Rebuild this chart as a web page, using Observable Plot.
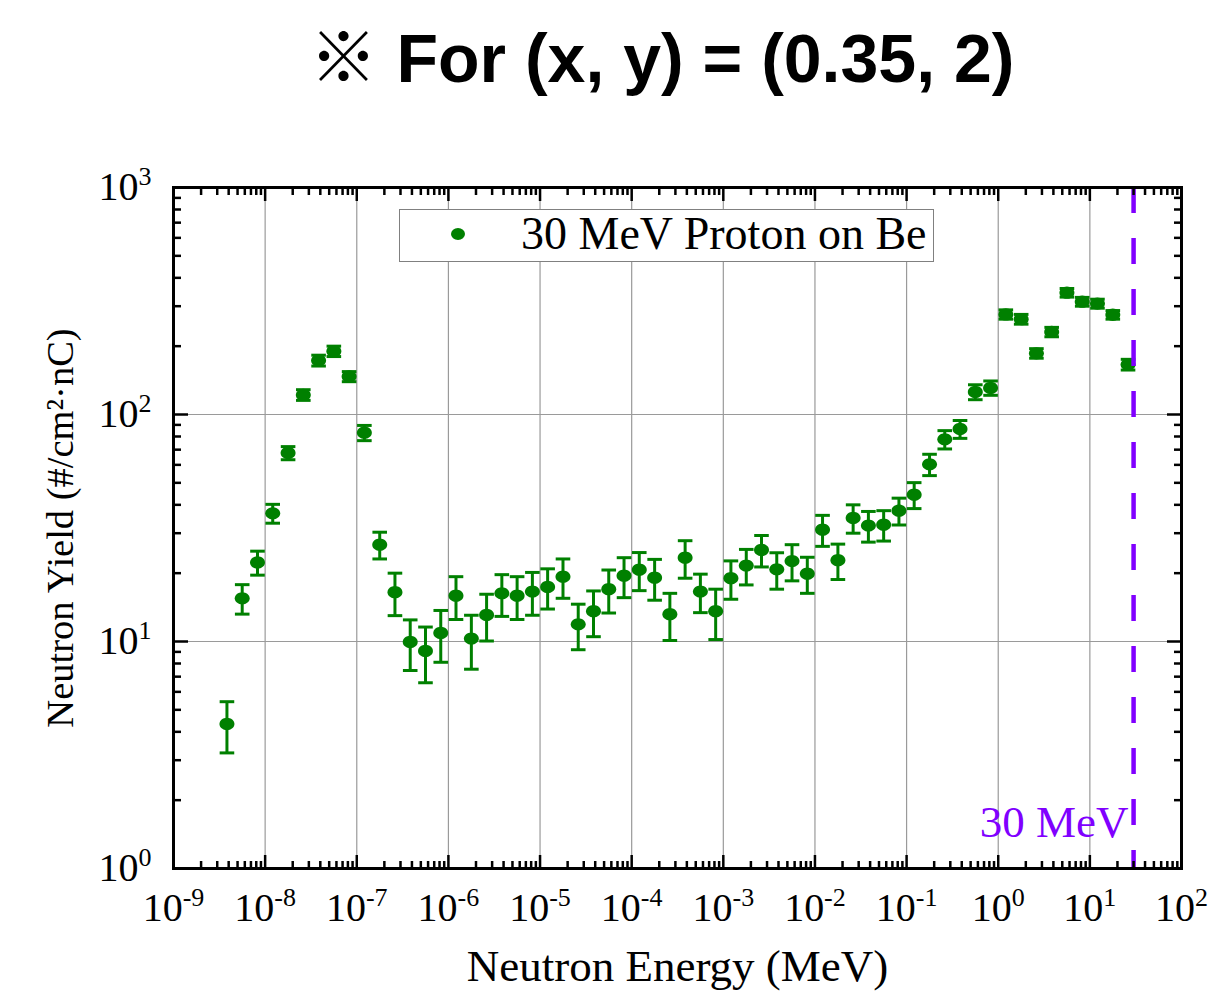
<!DOCTYPE html>
<html>
<head>
<meta charset="utf-8">
<script src="https://cdn.jsdelivr.net/npm/d3@7"></script>
<script src="https://cdn.jsdelivr.net/npm/@observablehq/plot@0.6"></script>
<style>
html,body{margin:0;padding:0;background:#fff;}
#wrap{position:relative;width:1221px;height:991px;overflow:hidden;background:#fff;}
#title{position:absolute;top:24px;left:662px;transform:translateX(-50%);white-space:nowrap;
  font-family:"Liberation Sans",Arial,"Noto Sans CJK JP",sans-serif;font-weight:bold;font-size:68px;line-height:68px;color:#000;}
#legend{position:absolute;left:399px;top:209px;width:535px;height:53px;box-sizing:border-box;border:1.5px solid #808080;background:#fff;}
#legend .dot{position:absolute;left:51px;top:18px;width:14px;height:12px;border-radius:50%;background:#008000;}
#legend .lab{position:absolute;left:121px;top:1px;white-space:nowrap;font-family:"Liberation Serif","Times New Roman",serif;font-size:46px;line-height:46px;color:#000;}
</style>
</head>
<body>
<div id="wrap">
  <div id="chart"></div>
  <div id="title"></div>
  <div id="legend"><span class="dot"></span><span class="lab"></span></div>
</div>
<script>
// ---- data ----
const titleText = "※ For (x, y) = (0.35, 2)";
const seriesName = "30 MeV Proton on Be";
const xTitle = "Neutron Energy (MeV)";
const yTitle = "Neutron Yield (#/cm²·nC)";

const energy = [
  3.83e-9, 5.62e-9, 8.25e-9,
  1.21e-8, 1.78e-8, 2.61e-8, 3.83e-8, 5.62e-8, 8.25e-8,
  1.21e-7, 1.78e-7, 2.61e-7, 3.83e-7, 5.62e-7, 8.25e-7,
  1.21e-6, 1.78e-6, 2.61e-6, 3.83e-6, 5.62e-6, 8.25e-6,
  1.21e-5, 1.78e-5, 2.61e-5, 3.83e-5, 5.62e-5, 8.25e-5,
  1.21e-4, 1.78e-4, 2.61e-4, 3.83e-4, 5.62e-4, 8.25e-4,
  1.21e-3, 1.78e-3, 2.61e-3, 3.83e-3, 5.62e-3, 8.25e-3,
  1.21e-2, 1.78e-2, 2.61e-2, 3.83e-2, 5.62e-2, 8.25e-2,
  0.121, 0.178, 0.261, 0.383, 0.562, 0.825,
  1.21, 1.78, 2.61, 3.83, 5.62, 8.25,
  12.1, 17.8, 26.1
];
const yieldValue = [
  4.33, 15.5, 22.3,
  36.7, 67.7, 122, 173, 190, 147,
  83.1, 26.7, 16.5, 9.95, 9.08, 10.9,
  15.9, 10.3, 13.1, 16.3, 15.9, 16.6,
  17.4, 19.3, 11.9, 13.6, 17.0, 19.5,
  20.7, 19.1, 13.2, 23.4, 16.6, 13.6,
  19.0, 21.6, 25.3, 20.8, 22.6, 19.9,
  31.1, 22.8, 35.0, 32.4, 32.7, 37.7,
  44.3, 60.3, 77.7, 86.3, 125.7, 131,
  276, 263, 186, 231, 344, 314,
  308, 275, 166
];
const yieldError = [
  1.1, 2.3, 2.7,
  3.5, 4.5, 6.6, 9.5, 10, 7.5,
  6.4, 3.6, 3.5, 2.5, 2.5, 2.8,
  3.4, 2.75, 3.05, 3.4, 3.4, 3.55,
  3.5, 3.8, 2.7, 3.1, 3.65, 3.9,
  3.95, 3.9, 3.1, 4.4, 3.2, 3.4,
  3.65, 3.85, 4.0, 3.8, 4.1, 3.6,
  4.85, 4.05, 5.0, 5.0, 5.0, 5.1,
  5.8, 6.5, 7.2, 7.8, 9.5, 9.5,
  13, 13, 9, 11, 15, 14,
  14, 12, 9
];

const markerEnergy = 30;
const markerLabel = "30 MeV";
const markerLabelY = 1.6;

const xTickValues = [1e-9, 1e-8, 1e-7, 1e-6, 1e-5, 1e-4, 1e-3, 1e-2, 1e-1, 1e0, 1e1, 1e2];
const xTickLabels = ["10^-9","10^-8","10^-7","10^-6","10^-5","10^-4","10^-3","10^-2","10^-1","10^0","10^1","10^2"];
const yTickValues = [1, 10, 100, 1000];
const yTickLabels = ["10^0","10^1","10^2","10^3"];
const xGridValues = [1e-8, 1e-7, 1e-6, 1e-5, 1e-4, 1e-3, 1e-2, 1e-1, 1e0, 1e1];
const yGridValues = [10, 100];

// ---- build ----
const green = "#008000";
const violet = "#8000ff";
const serif = "'Liberation Serif','Times New Roman',serif";

const data = energy.map((e, i) => ({e, v: yieldValue[i], err: yieldError[i]}));

// minor tick positions (2..9 within each decade)
const xMinor = [];
for (let i = 0; i < xTickValues.length - 1; i++) for (let m = 2; m <= 9; m++) xMinor.push(xTickValues[i] * m);
const yMinor = [];
for (let i = 0; i < yTickValues.length - 1; i++) for (let m = 2; m <= 9; m++) yMinor.push(yTickValues[i] * m);

const capSymbol = {draw(ctx, size) { const r = Math.sqrt(size / Math.PI); ctx.moveTo(-r, 0); ctx.lineTo(r, 0); }};
const ellipseSymbol = {draw(ctx, size) {
  const r = Math.sqrt(size / Math.PI), rx = r * 1.07, ry = r * 0.88, k = 0.5523;
  ctx.moveTo(rx, 0);
  ctx.bezierCurveTo(rx, ry * k, rx * k, ry, 0, ry);
  ctx.bezierCurveTo(-rx * k, ry, -rx, ry * k, -rx, 0);
  ctx.bezierCurveTo(-rx, -ry * k, -rx * k, -ry, 0, -ry);
  ctx.bezierCurveTo(rx * k, -ry, rx, -ry * k, rx, 0);
  ctx.closePath();
}};

const tk = {stroke: "black", strokeWidth: 2.5, tickFormat: () => "", label: null};

const chart = Plot.plot({
  width: 1221,
  height: 991,
  marginTop: 187,
  marginBottom: 123,
  marginLeft: 173,
  marginRight: 40,
  style: {fontFamily: serif, background: "white", color: "black", overflow: "visible"},
  x: {type: "log", domain: [1e-9, 1e2], label: null},
  y: {type: "log", domain: [1, 1000], label: null},
  marks: [
    Plot.gridX(xGridValues, {stroke: "#9a9a9a", strokeOpacity: 1, strokeWidth: 1.2}),
    Plot.gridY(yGridValues, {stroke: "#9a9a9a", strokeOpacity: 1, strokeWidth: 1.2}),
    Plot.ruleX(data, {x: "e", y1: d => d.v - d.err, y2: d => d.v + d.err, stroke: green, strokeWidth: 3}),
    Plot.dot(data, {x: "e", y: d => d.v + d.err, symbol: capSymbol, r: 7.3, stroke: green, strokeWidth: 3, fill: "none"}),
    Plot.dot(data, {x: "e", y: d => d.v - d.err, symbol: capSymbol, r: 7.3, stroke: green, strokeWidth: 3, fill: "none"}),
    Plot.dot(data, {x: "e", y: "v", symbol: ellipseSymbol, r: 7, fill: green, stroke: "none"}),
    Plot.ruleX([markerEnergy], {stroke: violet, strokeWidth: 4.5, strokeDasharray: "26,25"}),
    Plot.text([{x: markerEnergy, y: markerLabelY, t: markerLabel}], {x: "x", y: "y", text: "t", fill: violet, fontSize: 45, textAnchor: "end", dx: -5, lineAnchor: "middle", fontFamily: serif}),
    // inward ticks on all four sides
    Plot.axisX(xTickValues, {anchor: "bottom", tickSize: -13, ...tk}),
    Plot.axisX(xMinor, {anchor: "bottom", tickSize: -7, ...tk}),
    Plot.axisX(xTickValues, {anchor: "top", tickSize: -13, ...tk}),
    Plot.axisX(xMinor, {anchor: "top", tickSize: -7, ...tk}),
    Plot.axisY(yTickValues, {anchor: "left", tickSize: -15, ...tk}),
    Plot.axisY(yMinor, {anchor: "left", tickSize: -8, ...tk}),
    Plot.axisY(yTickValues, {anchor: "right", tickSize: -15, ...tk}),
    Plot.axisY(yMinor, {anchor: "right", tickSize: -8, ...tk}),
    // tick labels
    Plot.axisX(xTickValues, {anchor: "bottom", tickSize: 0, tickPadding: 24, fontSize: 40, label: null,
      tickFormat: d => xTickLabels[xTickValues.indexOf(d)]}),
    Plot.axisY(yTickValues, {anchor: "left", tickSize: 0, tickPadding: 22, fontSize: 40, label: null,
      tickFormat: d => yTickLabels[yTickValues.indexOf(d)]}),
    // axis titles
    Plot.text([xTitle], {frameAnchor: "bottom", dy: 98, fontSize: 45, lineAnchor: "middle", textAnchor: "middle", fill: "black"}),
    Plot.text([yTitle], {frameAnchor: "left", dx: -113, rotate: -90, fontSize: 38.5, lineAnchor: "middle", textAnchor: "middle", fill: "black"}),
    Plot.frame({stroke: "black", strokeWidth: 3})
  ]
});

// turn "10^-9" into 10 with a raised exponent
const ns = "http://www.w3.org/2000/svg";
chart.querySelectorAll('g[aria-label="x-axis tick label"] text, g[aria-label="y-axis tick label"] text').forEach(t => {
  const m = (t.textContent || "").match(/^(\d+)\^(-?\d+)$/);
  if (!m) return;
  t.textContent = "";
  const a = document.createElementNS(ns, "tspan");
  a.textContent = m[1];
  const b = document.createElementNS(ns, "tspan");
  b.textContent = m[2];
  b.setAttribute("font-size", "26");
  b.setAttribute("dy", "-15");
  t.append(a, b);
});

document.getElementById("chart").append(chart);
document.getElementById("title").textContent = titleText;
document.querySelector("#legend .lab").textContent = seriesName;
</script>
</body>
</html>
